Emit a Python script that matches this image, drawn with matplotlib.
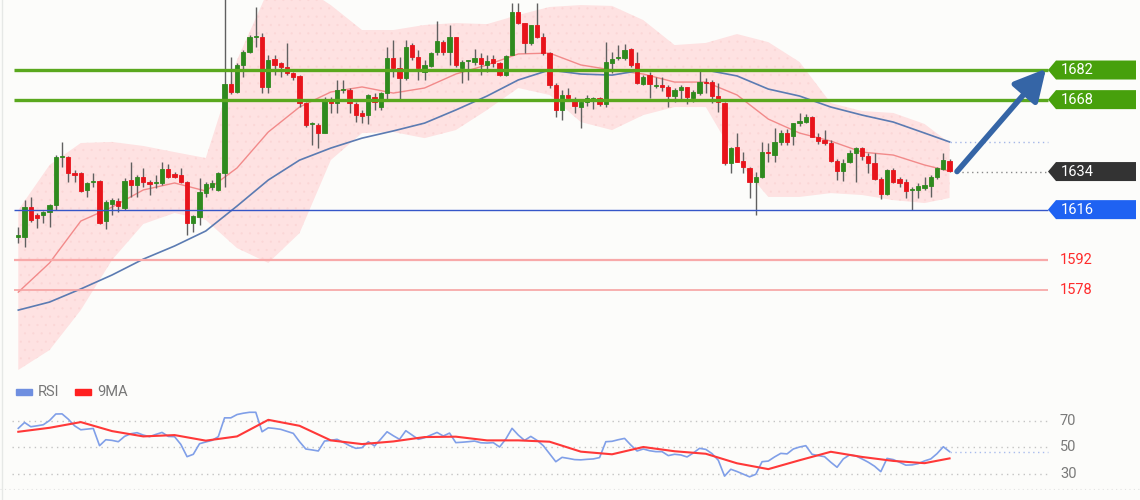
import matplotlib.pyplot as plt
from matplotlib.patches import Polygon, Rectangle

plt.rcParams['font.family'] = ['Roboto', 'DejaVu Sans']
plt.rcParams['hatch.linewidth'] = 0.3

# ---- candles ----
opens = [1603.2, 1603.0, 1617.2, 1613.4, 1613.4, 1614.8, 1618.2, 1640.9, 1640.9, 1633.3,
         1633.3, 1625.3, 1629.0, 1629.5, 1610.6, 1618.6, 1620.1, 1616.8, 1630.0, 1627.6,
         1631.4, 1629.0, 1628.4, 1628.6, 1635.2, 1632.8, 1632.4, 1629.0, 1609.7, 1612.5,
         1623.8, 1626.7, 1625.3, 1633.3, 1675.4, 1671.6, 1684.4, 1690.5, 1697.6, 1697.6,
         1674.0, 1687.2, 1685.3, 1683.4, 1680.6, 1679.2, 1666.4, 1656.5, 1656.0, 1652.2,
         1667.8, 1666.4, 1672.5, 1672.5, 1665.9, 1661.7, 1660.7, 1669.2, 1664.5, 1671.1,
         1687.7, 1683.0, 1678.2, 1693.8, 1688.1, 1681.0, 1683.9, 1690.5, 1695.2, 1690.5,
         1697.6, 1683.0, 1686.3, 1685.8, 1687.7, 1684.4, 1687.2, 1685.3, 1679.6, 1689.1,
         1709.4, 1704.2, 1694.8, 1703.3, 1697.6, 1690.0, 1674.9, 1663.1, 1670.2, 1667.8,
         1664.5, 1666.9, 1667.8, 1668.8, 1665.9, 1685.3, 1687.5, 1687.7, 1691.9, 1685.3,
         1675.4, 1679.6, 1674.4, 1674.9, 1674.0, 1669.7, 1672.5, 1674.0, 1668.8, 1671.1,
         1676.3, 1676.3, 1669.7, 1666.4, 1638.0, 1645.6, 1639.0, 1635.7, 1629.0, 1631.4,
         1643.2, 1641.8, 1648.0, 1652.2, 1650.8, 1657.0, 1657.4, 1659.8, 1650.3, 1648.9,
         1647.5, 1639.0, 1634.2, 1638.5, 1642.7, 1645.1, 1641.3, 1638.0, 1630.5, 1623.4,
         1634.7, 1630.5, 1629.0, 1625.1, 1625.3, 1626.2, 1627.2, 1631.4, 1635.2, 1639.0]
highs = [1607.8, 1620.5, 1622.0, 1614.4, 1615.3, 1618.6, 1641.8, 1648.0, 1641.5, 1634.7,
         1633.8, 1629.0, 1633.3, 1630.0, 1620.5, 1621.5, 1621.5, 1631.0, 1638.5, 1632.4,
         1635.7, 1630.0, 1632.4, 1638.5, 1637.6, 1633.8, 1635.7, 1629.5, 1613.4, 1631.0,
         1629.0, 1630.0, 1633.8, 1720.0, 1688.1, 1685.3, 1691.5, 1698.6, 1711.8, 1699.5,
         1689.1, 1689.1, 1685.8, 1694.8, 1681.0, 1679.6, 1666.9, 1657.4, 1657.0, 1669.2,
         1669.2, 1677.3, 1677.3, 1673.5, 1666.9, 1663.1, 1670.6, 1671.1, 1671.6, 1692.9,
         1696.2, 1688.1, 1696.2, 1694.8, 1691.5, 1686.7, 1690.5, 1705.2, 1696.2, 1703.3,
         1697.6, 1686.7, 1686.7, 1691.9, 1690.0, 1689.1, 1689.1, 1685.8, 1689.1, 1713.7,
         1713.7, 1704.2, 1703.3, 1713.7, 1699.5, 1690.5, 1675.9, 1672.5, 1673.5, 1669.2,
         1667.8, 1670.2, 1669.2, 1669.2, 1695.2, 1690.5, 1693.8, 1694.3, 1692.4, 1690.5,
         1679.6, 1681.0, 1678.7, 1678.7, 1674.9, 1673.5, 1674.9, 1674.0, 1672.5, 1682.5,
         1678.2, 1677.3, 1675.9, 1666.9, 1645.6, 1652.2, 1643.2, 1636.1, 1633.8, 1648.0,
         1647.5, 1654.6, 1653.6, 1654.1, 1657.0, 1661.7, 1661.2, 1660.2, 1652.2, 1653.6,
         1648.9, 1639.9, 1639.9, 1644.2, 1645.6, 1645.6, 1642.7, 1642.7, 1631.4, 1635.2,
         1635.7, 1631.4, 1630.5, 1626.7, 1628.6, 1631.4, 1632.4, 1636.1, 1642.7, 1639.9]
lows = [1600.2, 1598.3, 1610.1, 1607.3, 1609.6, 1607.8, 1615.8, 1636.0, 1629.0, 1629.0,
        1624.3, 1622.0, 1626.7, 1609.2, 1606.8, 1613.4, 1614.8, 1615.8, 1622.0, 1622.0,
        1626.7, 1623.0, 1626.2, 1627.6, 1631.0, 1630.9, 1628.6, 1604.0, 1605.4, 1608.7,
        1622.0, 1625.3, 1624.8, 1626.7, 1670.6, 1671.1, 1678.7, 1690.0, 1692.9, 1671.1,
        1671.1, 1679.6, 1678.7, 1679.6, 1677.3, 1664.5, 1655.0, 1646.5, 1645.1, 1652.0,
        1661.7, 1661.7, 1671.1, 1661.7, 1657.4, 1657.0, 1656.5, 1663.1, 1663.1, 1667.8,
        1678.7, 1667.8, 1677.3, 1686.7, 1677.3, 1677.3, 1683.4, 1689.1, 1689.1, 1684.4,
        1683.4, 1675.9, 1677.3, 1684.4, 1679.6, 1681.0, 1683.4, 1679.2, 1679.2, 1689.1,
        1703.7, 1690.0, 1693.8, 1697.0, 1689.1, 1673.5, 1659.8, 1658.4, 1667.8, 1661.7,
        1654.6, 1665.0, 1663.6, 1665.0, 1664.5, 1680.6, 1686.7, 1686.7, 1683.4, 1675.4,
        1674.9, 1668.8, 1673.5, 1672.0, 1664.5, 1666.9, 1667.8, 1665.9, 1666.9, 1670.2,
        1671.1, 1666.4, 1662.1, 1637.1, 1633.3, 1638.5, 1633.3, 1621.5, 1613.4, 1630.9,
        1638.5, 1638.5, 1646.5, 1646.5, 1646.5, 1655.5, 1657.0, 1650.3, 1647.0, 1646.5,
        1638.5, 1630.0, 1629.5, 1638.0, 1629.0, 1639.4, 1633.3, 1630.0, 1621.0, 1622.9,
        1628.6, 1626.7, 1621.5, 1615.8, 1621.5, 1625.3, 1622.0, 1630.5, 1634.7, 1633.8]
closes = [1604.0, 1617.2, 1611.1, 1612.0, 1614.8, 1618.2, 1640.9, 1641.2, 1633.3, 1632.4,
          1624.8, 1628.6, 1629.2, 1609.7, 1619.6, 1620.5, 1617.7, 1629.5, 1627.6, 1631.4,
          1629.0, 1628.1, 1628.8, 1635.2, 1631.4, 1631.4, 1629.0, 1609.7, 1613.0, 1624.3,
          1628.1, 1628.6, 1633.3, 1675.4, 1671.6, 1684.4, 1690.5, 1697.6, 1697.8, 1674.0,
          1686.7, 1684.4, 1683.4, 1680.6, 1678.7, 1666.4, 1656.0, 1656.6, 1652.2, 1668.3,
          1666.4, 1672.5, 1672.8, 1666.4, 1660.7, 1660.2, 1670.2, 1666.9, 1671.1, 1687.7,
          1683.0, 1678.2, 1692.9, 1688.1, 1683.0, 1684.4, 1690.0, 1695.7, 1690.5, 1697.6,
          1684.4, 1685.8, 1686.5, 1687.7, 1684.8, 1686.3, 1685.3, 1679.6, 1688.6, 1709.4,
          1704.2, 1694.8, 1703.3, 1697.6, 1690.0, 1674.9, 1663.1, 1670.2, 1668.8, 1665.0,
          1666.9, 1668.8, 1668.8, 1665.9, 1685.8, 1687.2, 1687.8, 1691.5, 1684.4, 1675.9,
          1678.7, 1675.4, 1674.6, 1674.0, 1669.7, 1672.5, 1674.0, 1669.2, 1671.6, 1676.3,
          1675.9, 1669.7, 1666.9, 1638.0, 1645.1, 1638.5, 1636.1, 1629.0, 1631.4, 1643.2,
          1642.7, 1648.0, 1652.2, 1648.0, 1657.0, 1657.9, 1659.8, 1650.3, 1648.4, 1647.5,
          1639.0, 1634.2, 1638.0, 1642.7, 1645.1, 1641.3, 1638.0, 1630.5, 1623.4, 1634.7,
          1629.0, 1628.6, 1624.8, 1625.5, 1627.2, 1627.6, 1631.4, 1635.7, 1639.4, 1634.2]

# ---- overlays, sampled every 5 candles ----
ma_idx = list(range(0, 150, 5)) + [149]
ma_red = [1577.0, 1590.8, 1610.6, 1617.2, 1625.3, 1628.6, 1624.8, 1635.7, 1652.7, 1664.5,
          1671.6, 1674.0, 1671.1, 1673.5, 1680.1, 1684.4, 1689.6, 1690.0, 1684.4, 1682.0,
          1680.1, 1676.3, 1676.3, 1670.2, 1658.8, 1652.2, 1648.4, 1643.2, 1641.8, 1637.1, 1634.2]
ma_blue = [1568.5, 1572.3, 1578.5, 1585.1, 1592.6, 1598.8, 1605.9, 1617.7, 1630.0, 1639.4,
           1645.1, 1649.8, 1653.2, 1656.9, 1663.1, 1669.7, 1677.3, 1682.0, 1680.1, 1679.6,
           1682.0, 1682.0, 1682.0, 1679.2, 1673.0, 1669.7, 1664.5, 1660.7, 1657.4, 1652.2, 1648.0]
band_up = [1615.8, 1637.1, 1647.5, 1648.0, 1646.1, 1643.2, 1640.4, 1686.7, 1719.8, 1722.2,
           1712.7, 1700.9, 1700.9, 1703.3, 1704.2, 1703.7, 1708.0, 1711.8, 1712.7, 1712.3,
           1705.6, 1693.8, 1694.8, 1699.0, 1695.2, 1685.8, 1666.4, 1662.6, 1661.7, 1656.5, 1647.5]
band_lo = [1540.2, 1549.6, 1568.5, 1592.2, 1609.2, 1614.4, 1611.1, 1597.8, 1590.8, 1604.9,
           1639.4, 1652.2, 1652.7, 1649.8, 1653.6, 1663.1, 1673.5, 1670.2, 1657.4, 1653.6,
           1660.7, 1664.5, 1664.5, 1639.4, 1622.0, 1622.0, 1623.8, 1622.9, 1620.5, 1619.1, 1621.5]

# ---- RSI panel ----
rsi = [64.1, 68.5, 65.3, 66.0, 66.8, 70.0, 74.9, 75.0, 71.0, 66.0,
       63.0, 63.5, 64.0, 51.0, 55.5, 55.0, 54.0, 58.0, 60.0, 60.8,
       59.0, 57.8, 59.5, 61.0, 58.0, 57.8, 52.0, 42.7, 44.5, 52.5,
       53.8, 55.0, 57.8, 72.0, 72.0, 74.5, 75.5, 76.2, 76.2, 61.5,
       64.5, 64.0, 63.3, 61.8, 60.3, 54.0, 48.5, 47.8, 47.0, 54.5,
       55.0, 55.8, 53.5, 51.0, 49.0, 49.5, 54.0, 50.8, 56.0, 61.5,
       58.5, 55.8, 62.3, 59.0, 55.8, 57.0, 59.0, 61.0, 58.3, 60.5,
       53.3, 53.6, 54.0, 54.5, 53.2, 53.0, 53.3, 50.0, 56.0, 64.1,
       59.0, 55.0, 58.0, 55.0, 51.0, 45.0, 38.9, 42.2, 41.4, 40.5,
       40.3, 40.7, 41.0, 42.0, 54.0, 54.3, 55.5, 56.5, 51.5, 47.0,
       48.5, 47.2, 46.5, 46.5, 43.5, 44.5, 44.0, 42.5, 45.5, 49.0,
       48.2, 45.0, 40.0, 28.0, 33.2, 31.5, 29.5, 27.5, 29.4, 38.9,
       39.4, 42.5, 45.2, 44.8, 48.5, 50.0, 51.0, 44.5, 43.5, 42.7,
       38.5, 34.7, 41.0, 44.0, 43.3, 41.0, 38.5, 35.5, 31.4, 41.4,
       40.5, 38.5, 36.3, 36.5, 37.5, 39.5, 41.0, 45.0, 50.2, 46.5]
rsi_ma9 = [61.5, 64.5, 68.8, 62.0, 58.0, 59.0, 54.8, 58.0, 70.5, 66.0,
           55.0, 52.2, 54.2, 57.5, 57.8, 55.0, 55.0, 54.0, 46.5, 44.5,
           50.0, 46.8, 44.9, 37.7, 33.3, 40.0, 46.4, 42.5, 39.5, 37.8, 41.4]
rsi_levels = [70, 50, 30]

# ---- levels ----
resist = [1682, 1668]
pivot = 1634
support = 1616
targets = [1592, 1578]

GREEN, RED = '#2f8a1e', '#e8141b'


def px(x):
    # figure pixel x -> candle index (candle 0 sits at 18px, 6.25px apart)
    return (x - 18.3) / 6.25


fig = plt.figure(figsize=(11.4, 5), dpi=100, facecolor='#fcfcfa')
ax = fig.add_axes([0, 122 / 500, 1, 378 / 500])
ax.set_xlim(px(0), px(1140))
ax.set_ylim(1536.4, 1715.1)
ax.axis('off')
ppx = (1715.1 - 1536.4) / 378  # price units per pixel

ax.fill_between(ma_idx, band_lo, band_up, facecolor='#fee2e2', edgecolor='#fbd6d6',
                hatch='..', linewidth=0, zorder=0)
ax.plot(ma_idx, ma_red, color='#f28a8a', lw=1.0, zorder=1)
ax.plot(ma_idx, ma_blue, color='#5b7bb2', lw=1.2, zorder=1)

for i in range(len(opens)):
    o, h, l, c = opens[i], highs[i], lows[i], closes[i]
    col = GREEN if c >= o else RED
    ax.vlines(i, l, h, color='#606060', lw=1.0, zorder=2)
    ax.bar(i, max(abs(c - o), 0.5), bottom=min(o, c), width=0.66, color=col,
           edgecolor=col, lw=0.6, zorder=3)

x0, x1 = px(14), px(1048)
for r in resist:
    ax.hlines(r, x0, x1, color='#5aa81e', lw=2.4, zorder=4)
ax.hlines(support, x0, x1, color='#3556c8', lw=1.0, zorder=4)
ax.hlines(targets[0], x0, x1, color='#f8a9a9', lw=1.6, zorder=4)
ax.hlines(targets[1], x0, x1, color='#f6a2a2', lw=1.2, zorder=4)

ax.hlines(pivot, px(957), x1, color='#8a8a8a', lw=1.0, linestyles=(0, (1, 2.5)), zorder=4)
ax.hlines(ma_blue[-1], px(950), x1, color='#a4b6e8', lw=1.0, linestyles=(0, (1, 2.5)), zorder=4)

ax.annotate('', xy=(px(1046), resist[0] + 0.6), xytext=(px(957), pivot),
            arrowprops=dict(arrowstyle='-|>,head_length=0.95,head_width=0.5',
                            color='#3565a6', lw=4, mutation_scale=20, shrinkA=0, shrinkB=0),
            zorder=5)

h = 9.5 * ppx
for val, col in [(resist[0], '#47a00c'), (resist[1], '#47a00c'),
                 (pivot, '#333333'), (support, '#1f62f2')]:
    pts = [(px(1048), val), (px(1056), val + h), (px(1136), val + h),
           (px(1136), val - h), (px(1056), val - h)]
    ax.add_patch(Polygon(pts, closed=True, facecolor=col, edgecolor='none', zorder=5))
    ax.text(px(1061), val, str(val), color='white', fontsize=10.5, va='center',
            ha='left', zorder=6)
for val in targets:
    ax.text(px(1060), val, str(val), color='#ff2b2b', fontsize=10.5, va='center', ha='left')

# RSI
ar = fig.add_axes([0, 10 / 500, 1, 95 / 500])
ar.set_xlim(px(0), px(1140))
ar.set_ylim(17.55, 89.25)
ar.axis('off')
for lv in rsi_levels:
    ar.hlines(lv, px(12), px(1047), color='#c4c4c4', lw=1.0, linestyles=(0, (1, 3)))
    ar.text(px(1060), lv, str(lv), color='#7a7a7a', fontsize=10.5, va='center', ha='left')
ar.hlines(18.2, px(0), px(1140), color='#e2e2e2', lw=0.8, linestyles=(0, (1, 3)))
ar.plot(range(len(rsi)), rsi, color='#809fe8', lw=1.2)
ar.plot(ma_idx, rsi_ma9, color='#ff3838', lw=1.5)
ar.hlines(rsi[-1], px(950), x1, color='#a9bcee', lw=1.0, linestyles=(0, (1, 2.5)))

ytop = (490 - 392) / 95
for xs, col, name in [(16, '#6f8fe0', 'RSI'), (75, '#ff2020', '9MA')]:
    ar.add_patch(Rectangle((px(xs), ytop - 0.03), px(xs + 16) - px(xs), 0.06,
                           transform=ar.get_xaxis_transform(), color=col, clip_on=False))
    ar.text(px(xs + 22), ytop, name, transform=ar.get_xaxis_transform(),
            color='#777777', fontsize=10.5, va='center', ha='left')

fig.add_artist(plt.Line2D([1.5 / 1140, 1.5 / 1140], [0, 1], color='#e6e8e6', lw=1))

fig.savefig('out.png', dpi=100, facecolor=fig.get_facecolor())
